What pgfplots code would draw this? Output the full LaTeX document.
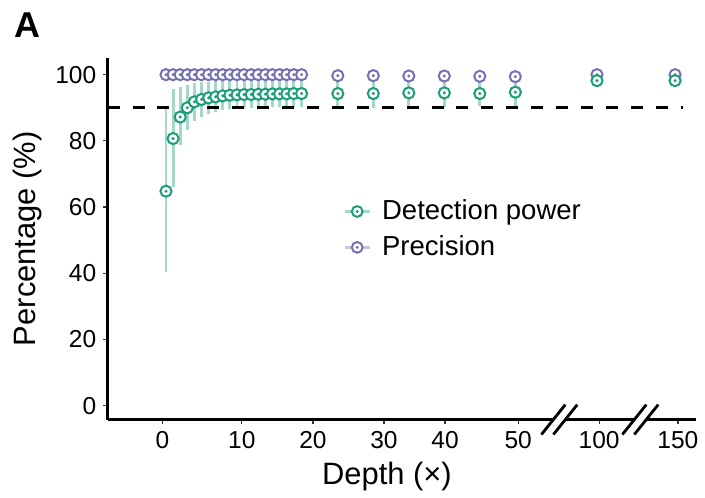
\documentclass[border=0pt]{standalone}
\usepackage{fontspec}
\setmainfont{Liberation Sans}
\usepackage{pgfplots}
\usepackage{pgfplotstable}
\pgfplotsset{compat=1.18}
\definecolor{dpgreen}{HTML}{1B9E77}
\definecolor{prpurple}{HTML}{7570B3}
\colorlet{dplight}{dpgreen!40}
\colorlet{prlight}{prpurple!40}

% pos = position on the broken x axis (0-50 linear, then 100 and 150)
\pgfplotstableread{
pos y lo hi
0.5 64.8 40.4 90.0
1.5 80.7 66.2 95.7
2.5 87.2 78.6 96.2
3.5 90.0 83.4 97.0
4.5 91.8 85.9 97.5
5.5 92.5 87.2 97.7
6.5 93.0 88.2 97.9
7.5 93.3 88.7 98.0
8.5 93.6 89.2 98.0
9.5 93.8 89.5 98.0
10.5 93.9 89.7 98.1
11.5 94.0 89.8 98.1
12.5 94.0 89.9 98.1
13.5 94.1 90.0 98.1
14.5 94.1 90.0 98.2
15.5 94.2 90.1 98.2
16.5 94.2 90.1 98.2
17.5 94.2 90.2 98.2
18.5 94.3 90.2 98.2
19.6 94.3 90.3 98.2
24.7 94.3 90.0 98.0
29.7 94.3 90.0 98.0
34.7 94.5 90.1 98.1
39.7 94.5 90.1 98.1
44.7 94.3 90.4 98.0
49.7 94.7 90.4 98.2
61.2 98.2 97.4 99.0
72.2 98.2 97.4 99.0
}\detection

\pgfplotstableread{
pos y lo hi
0.5 100.0 99.5 100.0
1.5 100.0 99.5 100.0
2.5 100.0 99.5 100.0
3.5 100.0 99.5 100.0
4.5 100.0 99.5 100.0
5.5 100.0 99.5 100.0
6.5 100.0 99.5 100.0
7.5 100.0 99.5 100.0
8.5 100.0 99.5 100.0
9.5 100.0 99.5 100.0
10.5 100.0 99.5 100.0
11.5 100.0 99.5 100.0
12.5 100.0 99.5 100.0
13.5 100.0 99.5 100.0
14.5 100.0 99.5 100.0
15.5 100.0 99.5 100.0
16.5 100.0 99.5 100.0
17.5 100.0 99.5 100.0
18.5 100.0 99.5 100.0
19.6 100.0 99.5 100.0
24.7 99.7 99.1 100.0
29.7 99.7 99.1 100.0
34.7 99.6 99.0 100.0
39.7 99.6 99.0 100.0
44.7 99.5 98.9 100.0
49.7 99.4 98.8 100.0
61.2 100.0 99.7 100.0
72.2 100.0 99.7 100.0
}\precision

\begin{document}
\begin{tikzpicture}
\begin{axis}[
  scale only axis, width=295pt, height=181.5pt,
  xmin=-7.72, xmax=75.1, ymin=-4.22, ymax=105.1,
  axis lines=left, axis line style={-, line width=1.3pt, black},
  xtick={0,11.17,21.2,31.2,39.8,50.1,61.5,72.6},
  xticklabels={0,10,20,30,40,50,100,150},
  ytick={0,20,...,100},
  tick align=outside, major tick length=2.2pt,
  tick style={line width=0.6pt, black!80},
  ticklabel style={font=\fontsize{12.3}{14}\selectfont},
  /pgf/number format/assume math mode=true,
  xlabel={Depth (×)}, ylabel={Percentage (\%)},
  label style={font=\fontsize{15.5}{18}\selectfont},
  xlabel style={at={(axis description cs:0.475,-0.157)}, anchor=center},
  ylabel style={at={(axis description cs:-0.1356,0.5)}, anchor=center},
  clip=false,
  legend style={at={(axis description cs:0.40,0.619)}, anchor=north west,
    draw=none, fill=none, inner sep=0pt, row sep=2.5pt,
    font=\fontsize{13.8}{16}\selectfont,
    /tikz/every odd column/.append style={column sep=3.5pt}},
  legend cell align=left,
]
\coordinate (sw) at (rel axis cs:0,0);
\coordinate (ne) at (rel axis cs:1,1);
\coordinate (b1) at (axis cs:55.9,-4.22);
\coordinate (b2) at (axis cs:67.3,-4.22);

% intervals
\addplot[forget plot, only marks, mark=none,
  error bars/.cd, y dir=both, y explicit, error mark=none,
  error bar style={line width=1.5pt, dplight}]
  table[x=pos, y=y, y error minus expr=\thisrow{y}-\thisrow{lo},
        y error plus expr=\thisrow{hi}-\thisrow{y}] {\detection};
\addplot[forget plot, only marks, mark=none,
  error bars/.cd, y dir=both, y explicit, error mark=none,
  error bar style={line width=1.5pt, prlight}]
  table[x=pos, y=y, y error minus expr=\thisrow{y}-\thisrow{lo},
        y error plus expr=\thisrow{hi}-\thisrow{y}] {\precision};

% 90% reference line
\addplot[forget plot, black, line width=1.3pt, dash pattern=on 6pt off 6.5pt]
  coordinates {(-7.72,90) (73.3,90)};

% points
\addplot[forget plot, only marks, mark=*, mark size=2.8pt,
  mark options={draw=prpurple, fill=white, line width=1pt}]
  table[x=pos, y=y] {\precision};
\addplot[forget plot, only marks, mark=*, mark size=0.55pt, prpurple]
  table[x=pos, y=y] {\precision};
\addplot[forget plot, only marks, mark=*, mark size=2.8pt,
  mark options={draw=dpgreen, fill=white, line width=1pt}]
  table[x=pos, y=y] {\detection};
\addplot[forget plot, only marks, mark=*, mark size=0.55pt, dpgreen]
  table[x=pos, y=y] {\detection};

\addlegendimage{legend image code/.code={
  \draw[dplight, line width=1.5pt] (0pt,0pt) -- (12.5pt,0pt);
  \draw[dpgreen, line width=1pt, fill=white] (6.25pt,0pt) circle (2.7pt);
  \fill[dpgreen] (6.25pt,0pt) circle (0.55pt);}}
\addlegendentry{Detection power}
\addlegendimage{legend image code/.code={
  \draw[prlight, line width=1.5pt] (0pt,0pt) -- (12.5pt,0pt);
  \draw[prpurple, line width=1pt, fill=white] (6.25pt,0pt) circle (2.7pt);
  \fill[prpurple] (6.25pt,0pt) circle (0.55pt);}}
\addlegendentry{Precision}

\node[font=\bfseries\fontsize{18}{20}\selectfont] at (axis description cs:-0.1356,1.091) {A};
\end{axis}
% axis breaks
\foreach \c in {b1,b2} {
  \fill[white] ([shift={(-9pt,-7.5pt)}]\c) -- ([shift={(3pt,7.5pt)}]\c)
    -- ([shift={(9pt,7.5pt)}]\c) -- ([shift={(-3pt,-7.5pt)}]\c) -- cycle;
  \draw[line width=1.4pt] ([shift={(-9pt,-7.5pt)}]\c) -- ([shift={(3pt,7.5pt)}]\c);
  \draw[line width=1.4pt] ([shift={(-3pt,-7.5pt)}]\c) -- ([shift={(9pt,7.5pt)}]\c);
}
\path ([shift={(-54pt,-38.5pt)}]sw) rectangle ([shift={(3.5pt,29pt)}]ne);
\end{tikzpicture}
\end{document}
